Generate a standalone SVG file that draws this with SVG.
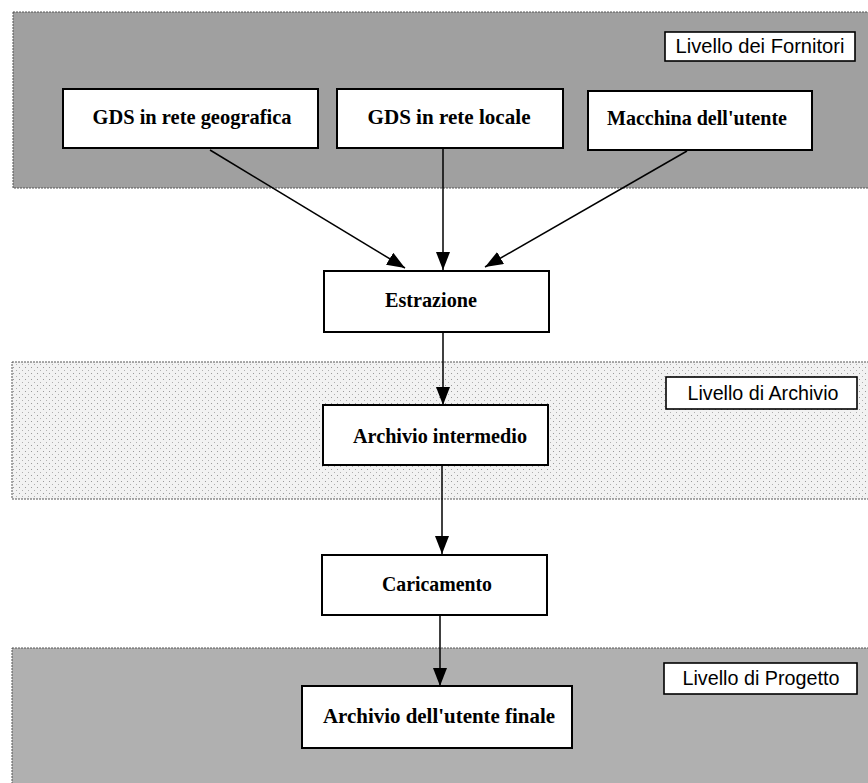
<svg xmlns="http://www.w3.org/2000/svg" width="868" height="783" viewBox="0 0 868 783">
<style>
.band{stroke:#555;stroke-width:1;stroke-dasharray:2 1}
.node{fill:#fff;stroke:#000;stroke-width:2}
.lbl{fill:#fff;stroke:#000;stroke-width:1.6}
.nt{font-family:"Liberation Serif","Times New Roman",serif;font-weight:bold;font-size:21px;fill:#000;text-anchor:middle}
.lt{font-family:"Liberation Sans",Arial,sans-serif;font-size:20px;fill:#000;text-anchor:middle}
.edge{stroke:#000;stroke-width:1.5;fill:none;marker-end:url(#ah)}
</style>
<defs>
<marker id="ah" markerUnits="userSpaceOnUse" markerWidth="18" markerHeight="14" refX="18" refY="7" orient="auto">
<path d="M0,0 L18,7 L0,14 z" fill="#000"/>
</marker>
<pattern id="dots" width="6" height="6" patternUnits="userSpaceOnUse">
<rect width="6" height="6" fill="#f2f2f2"/>
<rect x="1" y="1" width="1" height="1" fill="#9a9a9a"/>
<rect x="4" y="4" width="1" height="1" fill="#b0b0b0"/>
</pattern>
</defs>
<rect width="868" height="783" fill="#fff"/>

<g id="band-fornitori">
<rect class="band" x="13" y="12" width="860" height="176" fill="#a0a0a0"/>
<rect class="lbl" x="665" y="32" width="190" height="29"/>
<text class="lt" x="760" y="53" textLength="169" lengthAdjust="spacingAndGlyphs">Livello dei Fornitori</text>
</g>
<g id="band-archivio">
<rect class="band" x="12" y="362" width="861" height="137" fill="url(#dots)"/>
<rect class="lbl" x="666" y="377" width="191" height="32"/>
<text class="lt" x="763" y="400" textLength="151" lengthAdjust="spacingAndGlyphs">Livello di Archivio</text>
</g>
<g id="band-progetto">
<rect class="band" x="12" y="648" width="861" height="140" fill="#b0b0b0"/>
<rect class="lbl" x="664" y="663" width="193" height="31"/>
<text class="lt" x="761" y="685" textLength="157" lengthAdjust="spacingAndGlyphs">Livello di Progetto</text>
</g>

<g id="connectors">
<line class="edge" x1="210" y1="150" x2="405" y2="268"/>
<line class="edge" x1="443" y1="149" x2="443" y2="270"/>
<line class="edge" x1="687" y1="151" x2="485" y2="267"/>
<line class="edge" x1="443" y1="333" x2="443" y2="405"/>
<line class="edge" x1="442" y1="466" x2="442" y2="554"/>
<line class="edge" x1="440" y1="615" x2="440" y2="686"/>
</g>

<g id="n-gds-geo">
<rect class="node" x="63" y="89" width="255" height="59"/>
<text class="nt" x="192" y="124" textLength="199" lengthAdjust="spacingAndGlyphs">GDS in rete geografica</text>
</g>
<g id="n-gds-loc">
<rect class="node" x="337" y="89" width="226" height="59"/>
<text class="nt" x="449" y="124" textLength="163" lengthAdjust="spacingAndGlyphs">GDS in rete locale</text>
</g>
<g id="n-macchina">
<rect class="node" x="588" y="91" width="224" height="59"/>
<text class="nt" x="697" y="125" textLength="180" lengthAdjust="spacingAndGlyphs">Macchina  dell'utente</text>
</g>
<g id="n-estrazione">
<rect class="node" x="324" y="271" width="225" height="61"/>
<text class="nt" x="431" y="307" textLength="92" lengthAdjust="spacingAndGlyphs">Estrazione</text>
</g>
<g id="n-arch-int">
<rect class="node" x="323" y="405" width="225" height="60"/>
<text class="nt" x="440" y="443" textLength="174" lengthAdjust="spacingAndGlyphs">Archivio intermedio</text>
</g>
<g id="n-caricamento">
<rect class="node" x="322" y="555" width="225" height="60"/>
<text class="nt" x="437" y="591" textLength="110" lengthAdjust="spacingAndGlyphs">Caricamento</text>
</g>
<g id="n-arch-fin">
<rect class="node" x="302" y="686" width="270" height="62"/>
<text class="nt" x="439" y="723" textLength="232" lengthAdjust="spacingAndGlyphs">Archivio dell'utente finale</text>
</g>
</svg>
